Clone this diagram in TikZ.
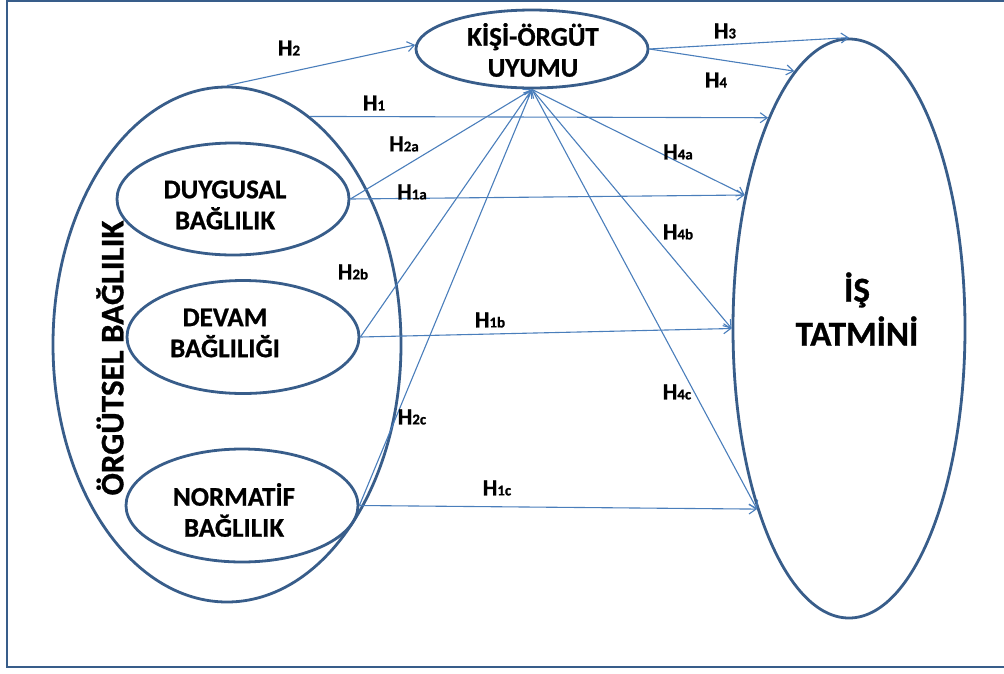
\documentclass[tikz,border=0pt]{standalone}
\usepackage{fontspec}
\setmainfont{Carlito}[BoldFeatures={FakeBold=0.8}]
\usepackage{tikz}
\usetikzlibrary{arrows.meta,shapes.geometric}
\definecolor{rim}{HTML}{385D8A}
\definecolor{link}{HTML}{4A7EBB}
\tikzset{
  ell/.style={ellipse,draw=rim,line width=2.8pt,inner sep=0pt},
  txt/.style={align=center,inner sep=0pt,font=\bfseries\fontsize{27}{31}\selectfont},
  bigtxt/.style={align=center,inner sep=0pt,font=\bfseries\fontsize{35}{44}\selectfont},
  hl/.style={inner sep=0pt,font=\bfseries\fontsize{23}{23}\selectfont},
  fl/.style={-{Straight Barb[length=7pt,width=10pt]},draw=link,line width=1.1pt},
}
\newcommand{\hlab}[1]{H{\fontsize{15}{15}\selectfont #1}}

\begin{document}
\begin{tikzpicture}[x=1pt,y=-1pt]
  \useasboundingbox (0,0) rectangle (1004,673);
  \draw[rim,line width=2.5pt] (7,0.5) rectangle (1012,667);
  % ellipses
  \node[ell,minimum width=348pt,minimum height=515pt] (org) at (227,344.5) {};
  \node[ell,minimum width=232pt,minimum height=112pt] (duy) at (233,199) {};
  \node[ell,minimum width=232pt,minimum height=113pt] (dev) at (243,337) {};
  \node[ell,minimum width=232pt,minimum height=113pt] (nor) at (242,505.5) {};
  \node[ell,minimum width=232pt,minimum height=78pt] (kisi) at (532,49) {};
  \node[ell,minimum width=232pt,minimum height=579pt] (is) at (849,328.5) {};
  % arrows
  \draw[fl] (org.north) -- (kisi.178);
  \draw[fl] (kisi.east) -- (is.north);
  \draw[fl] (kisi.east) -- (is.102.6);
  \draw[fl] (org.70.4) -- (is.111.85);
  \draw[fl] (duy.east) -- (is.128);
  \draw[fl] (dev.east) -- (is.west);
  \draw[fl] (nor.east) -- (is.243);
  \foreach \n in {duy,dev,nor} \draw[fl] (\n.east) -- (kisi.south);
  \foreach \a in {128,180,243} \draw[fl] (kisi.south) -- (is.\a);
  % texts
  \node[txt] (duyt) at (225,205) {DUYGUSAL\\BAĞLILIK};
  \node[txt] (devt) at (225,333) {DEVAM\\BAĞLILIĞI};
  \node[txt] (nort) at (234,510) {NORMATİF\\BAĞLILIK};
  \node[txt] (kisit) at (533,50) {KİŞİ-ÖRGÜT\\UYUMU};
  \node[bigtxt] (ist) at (857,309) {İŞ\\TATMİNİ};
  \node[bigtxt,rotate=90,font=\bfseries\fontsize{33}{40}\selectfont] (orgt) at (110,358) {ÖRGÜTSEL BAĞLILIK};
  % hypothesis labels
  \node[hl] (h2) at (289,48) {\hlab{2}};
  \node[hl] (h1) at (374,103) {\hlab{1}};
  \node[hl] (h3) at (725,31) {\hlab{3}};
  \node[hl] (h4) at (716,80) {\hlab{4}};
  \node[hl] (h2a) at (404,144) {\hlab{2a}};
  \node[hl] (h1a) at (412,192) {\hlab{1a}};
  \node[hl] (h4a) at (678,152) {\hlab{4a}};
  \node[hl] (h2b) at (353,272) {\hlab{2b}};
  \node[hl] (h4b) at (678,232) {\hlab{4b}};
  \node[hl] (h1b) at (490,320) {\hlab{1b}};
  \node[hl] (h4c) at (677,392) {\hlab{4c}};
  \node[hl] (h2c) at (412,417) {\hlab{2c}};
  \node[hl] (h1c) at (497,488) {\hlab{1c}};
\end{tikzpicture}
\end{document}
